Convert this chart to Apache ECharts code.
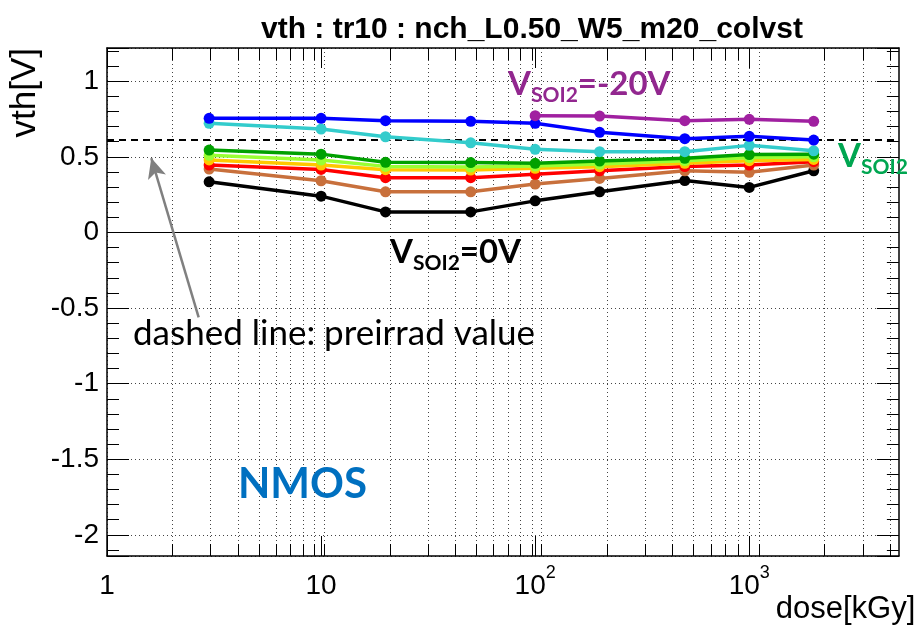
<!DOCTYPE html>
<html>
<head>
<meta charset="utf-8">
<script src="https://cdn.jsdelivr.net/npm/echarts@6/dist/echarts.min.js"></script>
<style>
  html, body { margin: 0; padding: 0; background: #fff; }
  #chart { width: 916px; height: 634px; }
</style>
</head>
<body>
<div id="chart"></div>
<script>
// dose points (kGy) and threshold voltage per VSOI2 curve
const doses = [3, 10, 20, 50, 100, 200, 500, 1000, 2000];
const vthBlack  = [0.335, 0.24, 0.136, 0.136, 0.209, 0.269, 0.343, 0.298, 0.408];
const vthBrown  = [0.419, 0.342, 0.269, 0.269, 0.32, 0.357, 0.408, 0.398, 0.446];
const vthRed    = [0.446, 0.417, 0.362, 0.362, 0.385, 0.408, 0.436, 0.446, 0.468];
const vthGold   = [0.48, 0.446, 0.415, 0.413, 0.424, 0.435, 0.457, 0.475, 0.483];
const vthLime   = [0.51, 0.479, 0.437, 0.433, 0.439, 0.452, 0.475, 0.495, 0.5];
const vthGreen  = [0.545, 0.518, 0.464, 0.462, 0.457, 0.472, 0.49, 0.515, 0.518];
const vthCyan   = [0.722, 0.684, 0.633, 0.593, 0.55, 0.534, 0.534, 0.576, 0.54];
const vthBlue   = [0.755, 0.755, 0.739, 0.735, 0.722, 0.662, 0.62, 0.636, 0.611];
const vthPurple = [null, null, null, null, 0.772, 0.77, 0.739, 0.748, 0.735];

const preirrad = 0.607;

// axis ticks
const xMajor = [1, 10, 100, 1000];
const xMinor = [2, 3, 4, 5, 6, 7, 8, 9, 20, 30, 40, 50, 60, 70, 80, 90,
                200, 300, 400, 500, 600, 700, 800, 900, 2000, 3000, 4000];
const xLabelExp = { 1: '', 10: '', 100: '2', 1000: '3' };

// annotation arrow (dose, vth)
const arrowFrom = [2.68, -0.561];
const arrowTo = [1.61, 0.492];

const curves = [
  { name: 'black',  color: '#000000', values: vthBlack },
  { name: 'brown',  color: '#c8703c', values: vthBrown },
  { name: 'red',    color: '#ff0000', values: vthRed },
  { name: 'gold',   color: '#ffc800', values: vthGold },
  { name: 'lime',   color: '#99ff33', values: vthLime },
  { name: 'green',  color: '#00a000', values: vthGreen },
  { name: 'cyan',   color: '#33cccc', values: vthCyan },
  { name: 'blue',   color: '#0000ff', values: vthBlue },
  { name: 'purple', color: '#a020a0', values: vthPurple }
];

const FONT = '"Liberation Sans", Arial, sans-serif';
const CAL = 'Lato, "Open Sans", sans-serif';
const gridBox = { left: 107, right: 5, top: 48, bottom: 78 };
const Y_MIN = -2.14, Y_MAX = 1.22, X_MIN = 1, X_MAX = 5000;

const chart = echarts.init(document.getElementById('chart'));

const series = curves.map((c, i) => {
  const s = {
    name: c.name,
    type: 'line',
    xAxisIndex: 0,
    yAxisIndex: 0,
    data: doses.map((d, k) => [d, c.values[k]]).filter(p => p[1] !== null),
    symbol: 'circle',
    symbolSize: 11,
    lineStyle: { color: c.color, width: 3.5 },
    itemStyle: { color: c.color },
    animation: false,
    silent: true,
    z: 3 + i
  };
  if (i === 0) {
    s.markLine = {
      silent: true,
      animation: false,
      symbol: ['none', 'none'],
      label: { show: false },
      data: [
        { yAxis: 0, lineStyle: { color: '#000', width: 1, type: 'solid' } },
        { yAxis: preirrad, lineStyle: { color: '#000', width: 2, type: [7, 5] } },
        [
          { coord: arrowFrom, symbol: 'none', lineStyle: { color: '#808080', width: 2.5, type: 'solid' } },
          { coord: arrowTo, symbol: 'arrow', symbolSize: [14, 20] }
        ]
      ]
    };
  }
  return s;
});

const frameLine = { show: true, onZero: false, lineStyle: { color: '#000', width: 1.5 } };
const dotted = { show: true, lineStyle: { color: '#444', width: 1, type: [1, 3] } };

// rich text for V with subscript SOI2
function vsoiRich(color) {
  return {
    m: { fontFamily: CAL, fontSize: 33, fontWeight: 'bold', fill: color, lineHeight: 38, verticalAlign: 'top' },
    s: { fontFamily: CAL, fontSize: 21, fontWeight: 'bold', fill: color, lineHeight: 38, verticalAlign: 'bottom' }
  };
}

const option = {
  backgroundColor: '#ffffff',
  animation: false,
  title: {
    text: 'vth : tr10 : nch_L0.50_W5_m20_colvst',
    left: 256,
    top: 10,
    textStyle: { fontFamily: FONT, fontSize: 30, fontWeight: 'bold', color: '#000' }
  },
  grid: [
    Object.assign({}, gridBox),
    Object.assign({}, gridBox)
  ],
  xAxis: [
    {
      type: 'log', logBase: 10, min: X_MIN, max: X_MAX, gridIndex: 0, position: 'bottom',
      name: 'dose[kGy]', nameLocation: 'end', nameGap: 0,
      nameTextStyle: { fontFamily: FONT, fontSize: 31, color: '#000', align: 'right', verticalAlign: 'top', padding: [38, 0, 0, 0] },
      axisLine: frameLine,
      axisTick: { show: true, inside: true, length: 20, customValues: xMajor, lineStyle: { color: '#000', width: 1 } },
      axisLabel: {
        show: true, margin: 8, customValues: xMajor,
        formatter: v => {
          const e = xLabelExp[Math.round(v)];
          return e ? '{b|10}{s|' + e + '}' : '{b|' + Math.round(v) + '}';
        },
        rich: {
          b: { fontFamily: FONT, fontSize: 28, color: '#000', lineHeight: 36, verticalAlign: 'bottom' },
          s: { fontFamily: FONT, fontSize: 18, color: '#000', lineHeight: 20, verticalAlign: 'top' }
        }
      },
      splitLine: { show: false }
    },
    {
      type: 'log', logBase: 10, min: X_MIN, max: X_MAX, gridIndex: 0, position: 'top',
      axisLine: frameLine,
      axisTick: { show: true, inside: true, length: 20, customValues: xMajor, lineStyle: { color: '#000', width: 1 } },
      axisLabel: { show: false },
      splitLine: { show: false }
    },
    {
      type: 'log', logBase: 10, min: X_MIN, max: X_MAX, gridIndex: 1, position: 'bottom',
      axisLine: { show: false, onZero: false },
      axisTick: { show: true, inside: true, length: 12, customValues: xMinor.concat(xMajor), lineStyle: { color: '#000', width: 1 } },
      axisLabel: { show: false },
      splitLine: dotted
    },
    {
      type: 'log', logBase: 10, min: X_MIN, max: X_MAX, gridIndex: 1, position: 'top',
      axisLine: { show: false, onZero: false },
      axisTick: { show: true, inside: true, length: 12, customValues: xMinor, lineStyle: { color: '#000', width: 1 } },
      axisLabel: { show: false },
      splitLine: { show: false }
    }
  ],
  yAxis: [
    {
      type: 'value', min: Y_MIN, max: Y_MAX, splitNumber: 7, gridIndex: 0, position: 'left',
      name: 'vth[V]', nameLocation: 'end', nameRotate: 90, nameGap: 0,
      nameTextStyle: { fontFamily: FONT, fontSize: 35, color: '#000', align: 'right', verticalAlign: 'bottom', padding: [0, 0, 64, 0] },
      axisLine: frameLine,
      axisTick: { show: true, inside: true, length: 22, lineStyle: { color: '#000', width: 1 } },
      minorTick: { show: true, splitNumber: 5, length: 12, lineStyle: { color: '#000', width: 1 } },
      axisLabel: {
        show: true, margin: 8, showMinLabel: false, showMaxLabel: false,
        fontFamily: FONT, fontSize: 28, color: '#000',
        formatter: v => String(Math.round(v * 10) / 10)
      },
      splitLine: dotted
    },
    {
      type: 'value', min: Y_MIN, max: Y_MAX, splitNumber: 7, gridIndex: 0, position: 'right',
      axisLine: frameLine,
      axisTick: { show: true, inside: true, length: 22, lineStyle: { color: '#000', width: 1 } },
      minorTick: { show: true, splitNumber: 5, length: 12, lineStyle: { color: '#000', width: 1 } },
      axisLabel: { show: false },
      splitLine: { show: false }
    },
    {
      type: 'value', min: Y_MIN, max: Y_MAX, gridIndex: 1, show: false
    }
  ],
  graphic: [
    {
      type: 'text', left: 508, top: 68, z: 100,
      style: { text: '{m|V}{s|SOI2}{m|=-20V}', rich: vsoiRich('#92278f') }
    },
    {
      type: 'text', left: 838, top: 140, z: 100,
      style: { text: '{m|V}{s|SOI2}', rich: vsoiRich('#00a651') }
    },
    {
      type: 'text', left: 390, top: 236, z: 100,
      style: { text: '{m|V}{s|SOI2}{m|=0V}', rich: vsoiRich('#000') }
    },
    {
      type: 'text', left: 133, top: 316, z: 100,
      style: { text: 'dashed line: preirrad value', fontFamily: CAL, fontSize: 35, fill: '#000' }
    },
    {
      type: 'text', left: 238, top: 463, z: 100,
      style: { text: 'NMOS', fontFamily: CAL, fontSize: 42, fontWeight: 'bold', fill: '#0070c0' }
    }
  ],
  series
};

chart.setOption(option);
</script>
</body>
</html>
